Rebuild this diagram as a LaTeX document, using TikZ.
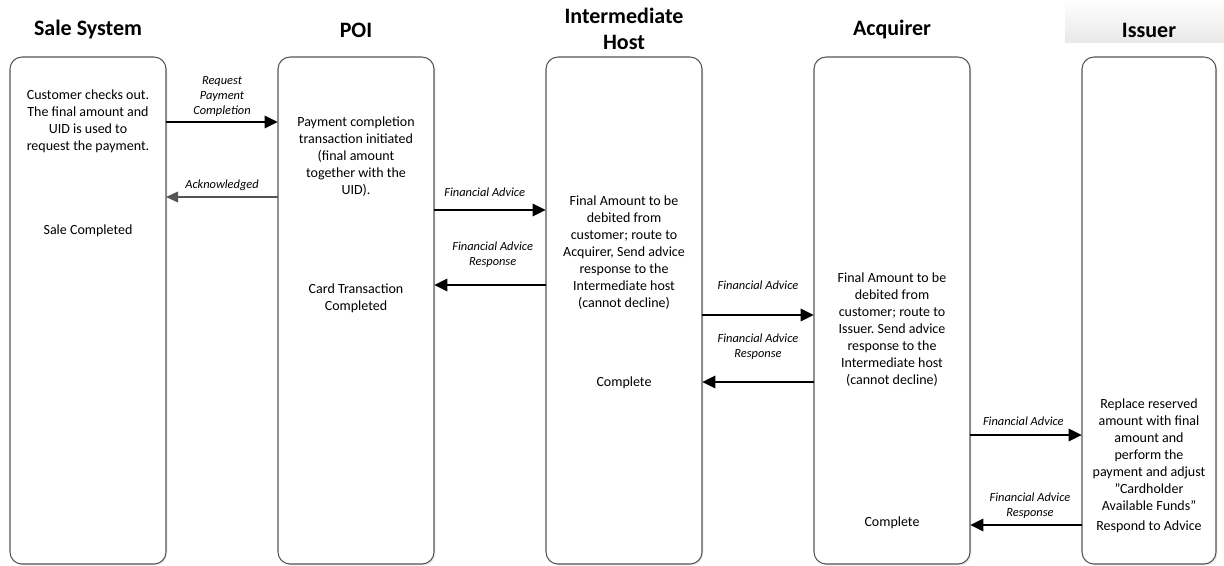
\documentclass[tikz,border=0pt]{standalone}
\usepackage{fontspec}
\setmainfont{Carlito}
\usetikzlibrary{positioning,arrows.meta,shadows}
\definecolor{mygray}{RGB}{85,85,85}
\definecolor{myshade}{RGB}{232,232,232}
\frenchspacing

\begin{document}
\begin{tikzpicture}[x=0.75pt,y=-0.75pt,node distance=84pt,
  lane/.style={draw=mygray,line width=0.8pt,rounded corners=9pt,fill=white,
    minimum width=117pt,minimum height=380.25pt,inner sep=0pt,outer sep=0pt,
    drop shadow={shadow xshift=1pt,shadow yshift=-1pt,opacity=0.2}},
  head/.style={font=\fontsize{16.5}{19.5}\selectfont\bfseries,align=center},
  txt/.style={font=\fontsize{10.5}{12.75}\selectfont,align=center,inner sep=0pt},
  lbl/.style={font=\fontsize{9.3}{11.25}\selectfont\itshape,align=center,inner sep=0pt},
  msg/.style={line width=2.2pt,-{Triangle[length=10pt,width=9pt]}},
  ack/.style={draw=mygray,line width=1.1pt,-{Triangle[length=9pt,width=8pt]}}]

  \useasboundingbox (0,0) rectangle (1224,565);

  % lanes
  \node[lane] (sale) at (88,310.5) {};
  \node[lane,right=of sale] (poi) {};
  \node[lane,right=of poi] (inter) {};
  \node[lane,right=of inter] (acq) {};
  \node[lane,right=of acq,minimum width=100.5pt] (iss) {};

  % headers
  \shade[top color=white,bottom color=myshade] (1065,0) rectangle (1224,42);
  \node[head] (saleHead) at (sale.north |- 0,30) {Sale System};
  \node[head] (poiHead) at (poi.north |- 0,30) {POI};
  \node[head] (interHead) at (inter.north |- 0,29) {Intermediate\\Host};
  \node[head] (acqHead) at (acq.north |- 0,30) {Acquirer};
  \node[head] (issHead) at (iss.north |- 0,30) {Issuer};

  % steps inside the lanes
  \node[txt] (saleTxt) at (sale.center |- 0,121) {Customer checks out.\\The final amount and\\UID is used to\\request the payment.};
  \node[txt] (saleDone) at (sale.center |- 0,231) {Sale Completed};
  \node[txt] (poiTxt) at (poi.center |- 0,157) {Payment completion\\transaction initiated\\(final amount\\together with the\\UID).};
  \node[txt] (poiDone) at (poi.center |- 0,298) {Card Transaction\\Completed};
  \node[txt] (interTxt) at (inter.center |- 0,253) {Final Amount to be\\debited from\\customer; route to\\Acquirer, Send advice\\response to the\\Intermediate host\\(cannot decline)};
  \node[txt] (interDone) at (inter.center |- 0,383) {Complete};
  \node[txt] (acqTxt) at (acq.center |- 0,330) {Final Amount to be\\debited from\\customer; route to\\Issuer. Send advice\\response to the\\Intermediate host\\(cannot decline)};
  \node[txt] (acqDone) at (acq.center |- 0,523) {Complete};
  \node[txt] (issTxt) at (iss.center |- 0,455) {Replace reserved\\amount with final\\amount and\\perform the\\payment and adjust\\”Cardholder\\Available Funds”};
  \node[txt] (issDone) at (iss.center |- 0,527) {Respond to Advice};

  % messages
  \draw[msg] (sale.east |- 0,122) -- (poi.west |- 0,122)
    node[lbl,midway,above=3pt] (reqLbl) {Request\\Payment\\Completion};
  \draw[ack] (poi.west |- 0,197) -- (sale.east |- 0,197)
    node[lbl,midway,above=4.5pt] (ackLbl) {Acknowledged};
  \draw[msg] (poi.east |- 0,210) -- (inter.west |- 0,210)
    node[lbl,midway,above=9pt,xshift=-4pt] (advLbl1) {Financial Advice};
  \draw[msg] (inter.west |- 0,285) -- (poi.east |- 0,285)
    node[lbl,midway,above=12pt,xshift=2pt] (rspLbl1) {Financial Advice\\Response};

  % messages on the right side
  \draw[msg] (inter.east |- 0,315) -- (acq.west |- 0,315)
    node[lbl,midway,above=18pt] (advLbl2) {Financial Advice};
  \draw[msg] (acq.west |- 0,382) -- (inter.east |- 0,382)
    node[lbl,midway,above=16pt] (rspLbl2) {Financial Advice\\Response};
  \draw[msg] (acq.east |- 0,435) -- (iss.west |- 0,435)
    node[lbl,midway,above=6pt,xshift=-2pt] (advLbl3) {Financial Advice};
  \draw[msg] (iss.west |- 0,525) -- (acq.east |- 0,525)
    node[lbl,midway,above=4pt,xshift=3pt] (rspLbl3) {Financial Advice\\Response};

\end{tikzpicture}
\end{document}
